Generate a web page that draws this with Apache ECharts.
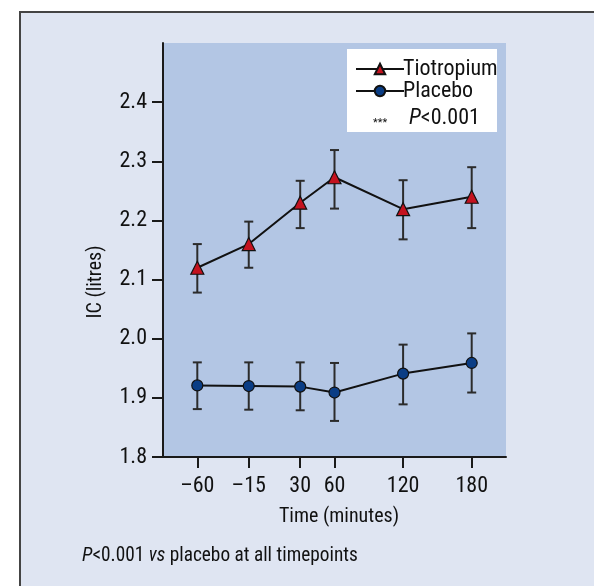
<!DOCTYPE html>
<html>
<head>
<meta charset="utf-8">
<script src="https://cdn.jsdelivr.net/npm/echarts@6/dist/echarts.min.js"></script>
<style>
  html, body { margin: 0; padding: 0; background: #ffffff; }
  #chart { width: 594px; height: 586px; }
</style>
</head>
<body>
<div id="chart"></div>
<script>
// time points (minutes) and tick positions
var timePoints = [-60, -15, 30, 60, 120, 180];
var yTicks = [1.8, 1.9, 2.0, 2.1, 2.2, 2.3, 2.4];

// IC (litres) mean and error bar ends
var tioMean = [2.12, 2.16, 2.23, 2.273, 2.219, 2.24];
var tioLow  = [2.078, 2.12, 2.187, 2.22, 2.168, 2.187];
var tioHigh = [2.16, 2.198, 2.267, 2.319, 2.268, 2.29];

var plaMean = [1.921, 1.92, 1.919, 1.909, 1.941, 1.959];
var plaLow  = [1.881, 1.88, 1.879, 1.861, 1.889, 1.909];
var plaHigh = [1.96, 1.96, 1.96, 1.959, 1.99, 2.009];

var FONT = '"Roboto Condensed", "Liberation Sans", sans-serif';

function pairs(xs, ys) {
  return xs.map(function (x, i) { return [x, ys[i]]; });
}
function errData(xs, lo, hi) {
  return xs.map(function (x, i) { return [x, lo[i], hi[i]]; });
}

// draws the vertical bar with caps
function renderErr(params, api) {
  var x = api.value(0);
  var p1 = api.coord([x, api.value(1)]);
  var p2 = api.coord([x, api.value(2)]);
  var w = 4.5;
  var st = { stroke: '#2b2b2b', lineWidth: 2 };
  return {
    type: 'group',
    children: [
      { type: 'line', shape: { x1: p1[0], y1: p1[1], x2: p2[0], y2: p2[1] }, style: st },
      { type: 'line', shape: { x1: p1[0] - w, y1: p1[1], x2: p1[0] + w, y2: p1[1] }, style: st },
      { type: 'line', shape: { x1: p2[0] - w, y1: p2[1], x2: p2[0] + w, y2: p2[1] }, style: st }
    ]
  };
}

var chart = echarts.init(document.getElementById('chart'));

var option = {
  animation: false,
  textStyle: { fontFamily: FONT },
  grid: {
    left: 163, top: 43, right: 88, bottom: 129,
    show: true, backgroundColor: '#b3c6e4', borderWidth: 0
  },
  graphic: [
    {
      type: 'rect', z: -10, silent: true,
      shape: { x: 20, y: 12, width: 600, height: 600 },
      style: { fill: '#dfe5f2', stroke: '#444444', lineWidth: 2 }
    },
    {
      type: 'rect', z: 1, silent: true,
      shape: { x: 347, y: 49, width: 150, height: 83 },
      style: { fill: '#ffffff' }
    },
    {
      type: 'text', z: 5, left: 373, top: 118,
      style: { text: '***', font: '11px ' + FONT, fill: '#111' }
    },
    {
      type: 'text', z: 5, left: 409, top: 107,
      style: {
        text: '{i|P}<0.001',
        font: '22px ' + FONT, fill: '#111',
        rich: { i: { fontStyle: 'italic', fontSize: 22, fontFamily: FONT } }
      }
    },
    {
      type: 'text', z: 5, x: 82, y: 545, scaleX: 0.92,
      style: {
        text: '{i|P}<0.001 {i|vs} placebo at all timepoints',
        font: '21px ' + FONT, fill: '#111',
        rich: { i: { fontStyle: 'italic', fontSize: 21, fontFamily: FONT } }
      }
    },
    {
      type: 'text', z: 5, x: 96, y: 282, rotation: Math.PI / 2,
      style: {
        text: 'IC (litres)', font: '20px ' + FONT, fill: '#111',
        align: 'center', verticalAlign: 'middle'
      }
    }
  ],
  legend: {
    left: 350, top: 53, orient: 'vertical',
    itemWidth: 48, itemHeight: 13, itemGap: 0,
    textStyle: { fontSize: 22, color: '#111', fontFamily: FONT, padding: [0, 0, 0, -6] },
    data: ['Tiotropium', 'Placebo']
  },
  xAxis: {
    type: 'value', min: -90, max: 210,
    name: 'Time (minutes)', nameLocation: 'middle', nameGap: 50,
    nameTextStyle: { fontSize: 20, color: '#111', fontFamily: FONT, padding: [0, 0, 0, 9] },
    axisLine: { onZero: false, lineStyle: { color: '#1a1a1a', width: 2 } },
    axisTick: { show: true, length: 11, customValues: timePoints, lineStyle: { color: '#1a1a1a', width: 2 } },
    axisLabel: {
      customValues: timePoints, margin: 18, fontSize: 22, color: '#111', fontFamily: FONT,
      formatter: function (v) { return v < 0 ? '\u2013' + Math.abs(v) : String(v); }
    },
    splitLine: { show: false }
  },
  yAxis: {
    type: 'value', min: 1.8, max: 2.5,
    axisLine: { show: true, onZero: false, lineStyle: { color: '#1a1a1a', width: 2 } },
    axisTick: { show: true, length: 11, customValues: yTicks, lineStyle: { color: '#1a1a1a', width: 2 } },
    axisLabel: {
      customValues: yTicks, margin: 16, fontSize: 22, color: '#111', fontFamily: FONT,
      formatter: function (v) { return v.toFixed(1); }
    },
    splitLine: { show: false }
  },
  series: [
    {
      name: 'errTio', type: 'custom', z: 2, renderItem: renderErr,
      encode: { x: 0, y: [1, 2] }, data: errData(timePoints, tioLow, tioHigh)
    },
    {
      name: 'errPla', type: 'custom', z: 2, renderItem: renderErr,
      encode: { x: 0, y: [1, 2] }, data: errData(timePoints, plaLow, plaHigh)
    },
    {
      name: 'Tiotropium', type: 'line', z: 3,
      symbol: 'triangle', symbolSize: 13,
      lineStyle: { color: '#111', width: 2 },
      itemStyle: { color: '#c4121f', borderColor: '#111', borderWidth: 1.2 },
      data: pairs(timePoints, tioMean)
    },
    {
      name: 'Placebo', type: 'line', z: 3,
      symbol: 'circle', symbolSize: 11,
      lineStyle: { color: '#111', width: 2 },
      itemStyle: { color: '#0a3d85', borderColor: '#111', borderWidth: 1.2 },
      data: pairs(timePoints, plaMean)
    }
  ]
};

chart.setOption(option);
</script>
</body>
</html>
